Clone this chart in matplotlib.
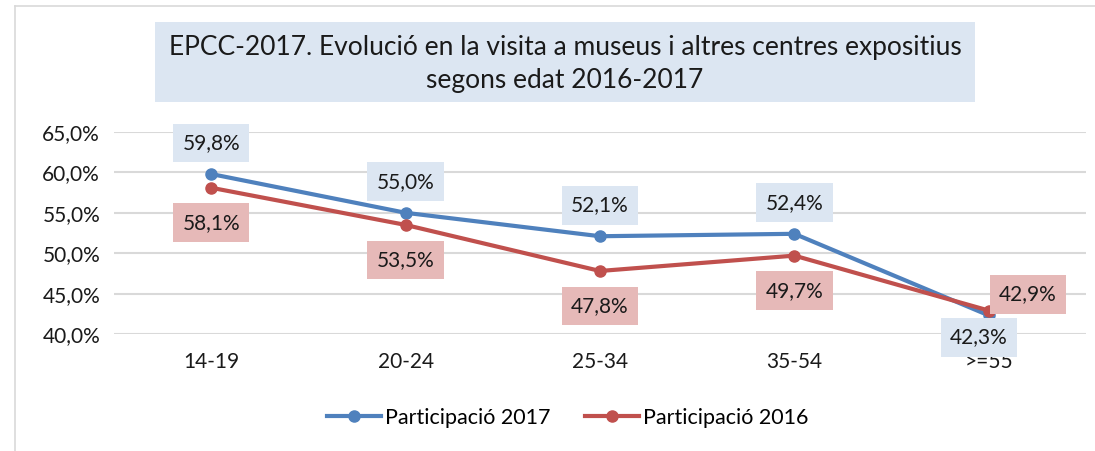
#! /usr/bin/python
# -*- coding: utf-8 -*-

import numpy as np
import matplotlib
matplotlib.use('Agg')
import matplotlib.pyplot as plt
from matplotlib.patches import Rectangle
from matplotlib.lines import Line2D

edats = ['14-19', '20-24', '25-34', '35-54', '>=55']
part_2017 = [59.8, 55.0, 52.1, 52.4, 42.3]
part_2016 = [58.1, 53.5, 47.8, 49.7, 42.9]
yticks = [40, 45, 50, 55, 60, 65]

blue = '#4F81BD'
red = '#C0504D'
blue_bg = '#DCE6F2'
red_bg = '#E6B9B8'

plt.rcParams['font.family'] = ['Lato', 'DejaVu Sans']


def fmt(v):
    return '{:.1f}%'.format(v).replace('.', ',')


def main():
    fig = plt.figure(figsize=(10.95, 4.51), dpi=100)
    W, H = 1095, 451
    ax = fig.add_axes([114 / W, 1 - 334 / H, (1086 - 114) / W, (334 - 132) / H])
    x = np.arange(len(edats))

    ax.plot(x, part_2017, 'o-', color=blue, lw=3, ms=8, label='Participació 2017', zorder=3)
    ax.plot(x, part_2016, 'o-', color=red, lw=3, ms=8, label='Participació 2016', zorder=3)

    ax.set_xlim(-0.5, 4.5)
    ax.set_ylim(40, 65)
    ax.set_yticks(yticks)
    ax.set_yticklabels([fmt(v) for v in yticks], fontsize=15, color='#1a1a1a')
    ax.set_xticks(x)
    ax.set_xticklabels(edats, fontsize=15, color='#1a1a1a')
    ax.tick_params(length=0)
    ax.tick_params(axis='x', pad=13)
    ax.tick_params(axis='y', pad=10)
    ax.grid(axis='y', color='#d9d9d9', lw=1.5)
    for s in ax.spines.values():
        s.set_visible(False)

    for i, v in enumerate(part_2017):
        if i < 4:
            dx, dy = 0, 31
        else:
            dx, dy = -10, -22
        ax.annotate(fmt(v), xy=(i, v), xytext=(dx, dy), textcoords='offset pixels',
                    ha='center', va='center', fontsize=15, color='#1a1a1a',
                    bbox=dict(boxstyle='square,pad=0.45', fc=blue_bg, ec='none'), zorder=4)
    for i, v in enumerate(part_2016):
        if i < 4:
            dx, dy = 0, -35
        else:
            dx, dy = 39, 16
        ax.annotate(fmt(v), xy=(i, v), xytext=(dx, dy), textcoords='offset pixels',
                    ha='center', va='center', fontsize=15, color='#1a1a1a',
                    bbox=dict(boxstyle='square,pad=0.45', fc=red_bg, ec='none'), zorder=4)

    # title box
    fig.add_artist(Rectangle((155 / W, 1 - 102 / H), (975 - 155) / W, 80 / H,
                             transform=fig.transFigure, fc=blue_bg, ec='none'))
    fig.text(565 / W, 1 - 64 / H,
             'EPCC-2017. Evolució en la visita a museus i altres centres expositius\nsegons edat 2016-2017',
             ha='center', va='center', fontsize=19, color='#1a1a1a', linespacing=1.4)

    # chart frame
    fig.add_artist(Line2D([15 / W, 1], [1 - 6 / H, 1 - 6 / H], transform=fig.transFigure,
                          color='#d9d9d9', lw=1.2))
    fig.add_artist(Line2D([15 / W, 15 / W], [0, 1 - 6 / H], transform=fig.transFigure,
                          color='#d9d9d9', lw=1.2))

    fig.legend(loc='center', bbox_to_anchor=(568 / W, 1 - 418 / H), ncol=2, frameon=False,
               fontsize=15.5, handlelength=2.5, columnspacing=1.6, handletextpad=0.2)

    fig.savefig('out.png', dpi=100)


if __name__ == '__main__':
    main()
